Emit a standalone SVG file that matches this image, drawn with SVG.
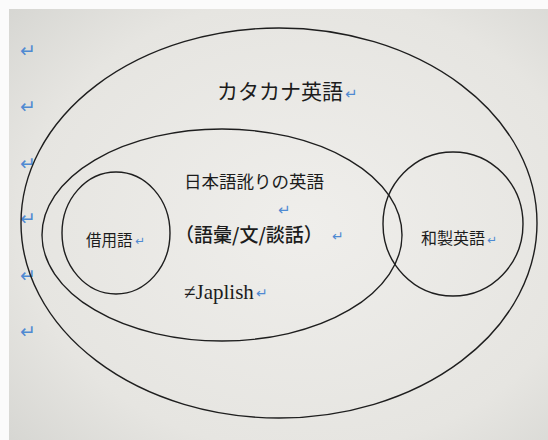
<svg xmlns="http://www.w3.org/2000/svg" width="548" height="440" viewBox="0 0 548 440">
  <defs>
    <radialGradient id="paper" cx="0.55" cy="0.5" r="0.75">
      <stop offset="0" stop-color="#efeeeb"/>
      <stop offset="0.7" stop-color="#e6e5e1"/>
      <stop offset="1" stop-color="#d6d6d2"/>
    </radialGradient>
    <style>
      .ring { fill: none; stroke: #1e1e1e; stroke-width: 1.4; }
      .jp { font-family: "Noto Sans CJK JP", "Noto Sans", sans-serif; fill: #1c1c1c; }
      .lat { font-family: "Liberation Serif", "Noto Sans CJK JP", serif; fill: #1c1c1c; }
      .pm { font-family: "Noto Sans CJK JP", "DejaVu Sans", sans-serif; fill: #4f8ad2; }
    </style>
  </defs>

  <rect x="0" y="0" width="548" height="440" fill="#fbfbfb"/>
  <rect x="9" y="9" width="539" height="431" fill="url(#paper)"/>

  <g id="margin-marks" class="pm" font-size="19">
    <text x="20" y="57">↵</text>
    <text x="20" y="113">↵</text>
    <text x="20" y="170">↵</text>
    <text x="20" y="225">↵</text>
    <text x="20" y="282">↵</text>
    <text x="20" y="338">↵</text>
  </g>

  <g id="katakana-eigo">
    <ellipse class="ring" cx="279" cy="223" rx="258" ry="195"/>
    <text class="jp" x="217" y="99" font-size="21">カタカナ英語</text>
    <text class="pm" x="345" y="99" font-size="15">↵</text>
  </g>

  <g id="nihongo-namari">
    <ellipse class="ring" cx="222" cy="235" rx="180" ry="106"/>
    <text class="jp" x="184" y="188" font-size="17.5">日本語訛りの英語</text>
    <text class="pm" x="278" y="215" font-size="15">↵</text>
    <text class="jp" x="175" y="242" font-size="19" font-weight="500">（語彙/文/談話）</text>
    <text class="pm" x="332" y="241" font-size="14">↵</text>
    <text class="lat" x="184" y="299" font-size="21">≠Japlish</text>
    <text class="pm" x="256" y="298" font-size="14">↵</text>
  </g>

  <g id="shakuyougo">
    <ellipse class="ring" cx="116" cy="233" rx="54" ry="61"/>
    <text class="jp" x="86" y="246" font-size="15.5">借用語</text>
    <text class="pm" x="135" y="245" font-size="12">↵</text>
  </g>

  <g id="wasei-eigo">
    <ellipse class="ring" cx="453" cy="224" rx="70" ry="72"/>
    <text class="jp" x="421" y="244" font-size="16">和製英語</text>
    <text class="pm" x="487" y="244" font-size="12">↵</text>
  </g>

  <g id="connectors"/>
</svg>
